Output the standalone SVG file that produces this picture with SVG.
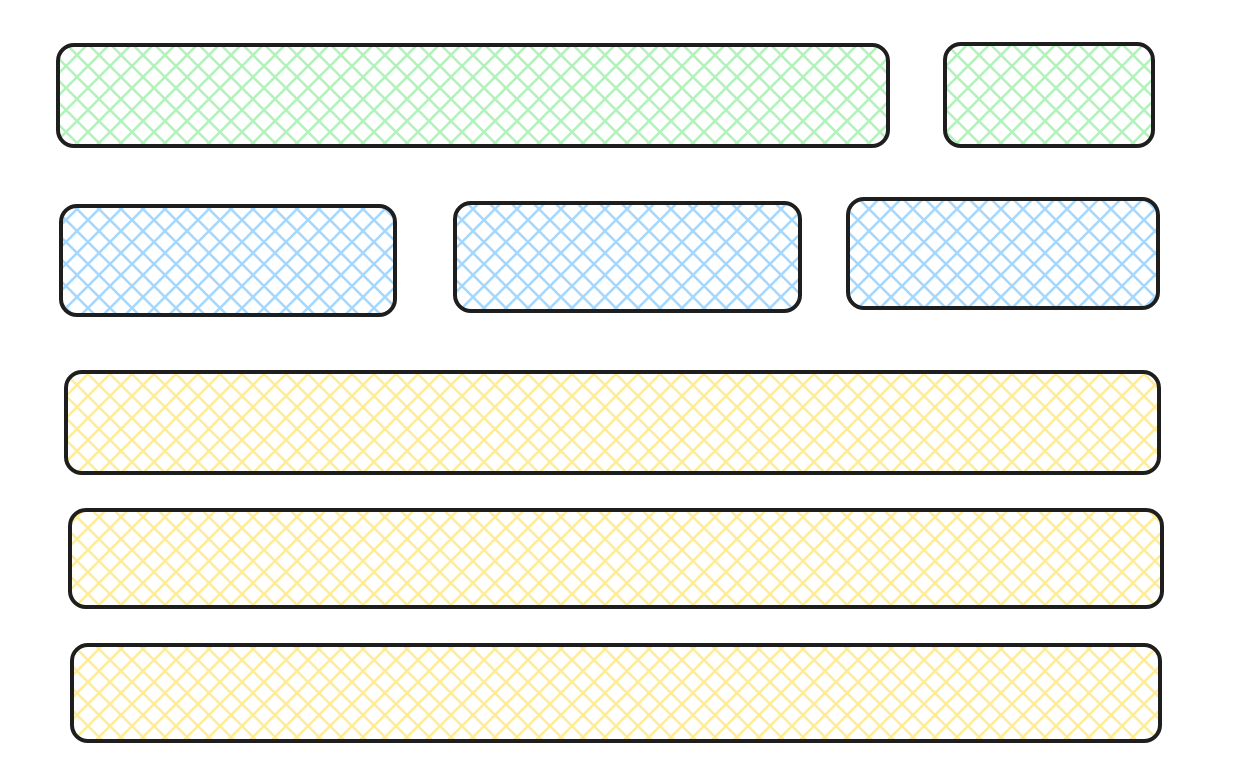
<svg xmlns="http://www.w3.org/2000/svg" width="1244" height="784" viewBox="0 0 1244 784">
<defs>
<pattern id="hg" patternUnits="userSpaceOnUse" width="22" height="22"><path d="M-6,6 L6,-6 M0,22 L22,0 M16,28 L28,16 M-6,16 L6,28 M0,0 L22,22 M16,-6 L28,6" stroke="#b2f2bb" stroke-width="2.6"/></pattern>
<pattern id="hb" patternUnits="userSpaceOnUse" width="22" height="22"><path d="M-6,6 L6,-6 M0,22 L22,0 M16,28 L28,16 M-6,16 L6,28 M0,0 L22,22 M16,-6 L28,6" stroke="#a5d8ff" stroke-width="2.6"/></pattern>
<pattern id="hy" patternUnits="userSpaceOnUse" width="22" height="22"><path d="M-6,6 L6,-6 M0,22 L22,0 M16,28 L28,16 M-6,16 L6,28 M0,0 L22,22 M16,-6 L28,6" stroke="#ffec99" stroke-width="2.6"/></pattern>
</defs>
<style>
rect{stroke:#1e1e1e;stroke-width:4;stroke-linejoin:round}
.g{fill:url(#hg)}.b{fill:url(#hb)}.y{fill:url(#hy)}
</style>
<rect width="1244" height="784" fill="#ffffff" style="stroke:none"/>
<g id="n1"><rect class="g" x="58" y="45" width="830" height="101" rx="16"/></g>
<g id="n2"><rect class="g" x="945" y="44" width="208" height="102" rx="16"/></g>
<g id="n3"><rect class="b" x="61" y="206" width="334" height="109" rx="16"/></g>
<g id="n4"><rect class="b" x="455" y="203" width="345" height="108" rx="16"/></g>
<g id="n5"><rect class="b" x="848" y="199" width="310" height="109" rx="16"/></g>
<g id="n6"><rect class="y" x="66" y="372" width="1093" height="101" rx="16"/></g>
<g id="n7"><rect class="y" x="70" y="510" width="1092" height="97" rx="16"/></g>
<g id="n8"><rect class="y" x="72" y="645" width="1088" height="96" rx="16"/></g>
<g id="connectors"/>
</svg>
